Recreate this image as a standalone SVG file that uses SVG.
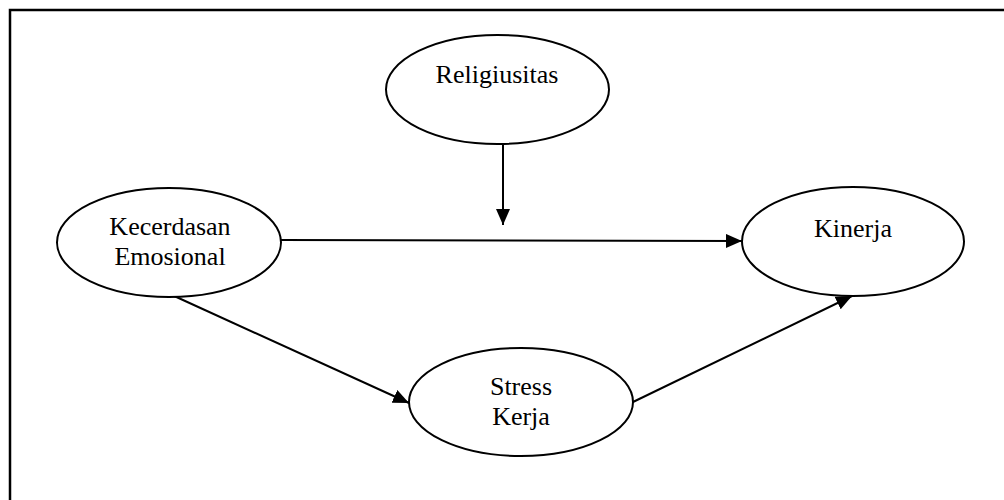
<svg xmlns="http://www.w3.org/2000/svg" width="1004" height="500" viewBox="0 0 1004 500">
<style>
.node ellipse{fill:#fff;stroke:#000;stroke-width:2}
.node text{font-family:"Liberation Serif","Times New Roman",serif;font-size:26px;fill:#000;text-anchor:middle}
.edge{stroke:#000;stroke-width:2;fill:none;marker-end:url(#arr)}
</style>
<defs>
<marker id="arr" viewBox="0 0 16 14" refX="16" refY="7" markerWidth="16" markerHeight="14" markerUnits="userSpaceOnUse" orient="auto">
<path d="M0,0 L16,7 L0,14 z" fill="#000"/>
</marker>
</defs>
<rect width="1004" height="500" fill="#fff"/>
<path d="M10,520 L10,10 L1010,10" fill="none" stroke="#000" stroke-width="2.5"/>
<g id="connectors">
<line class="edge" x1="503" y1="144" x2="503" y2="225"/>
<line class="edge" x1="281" y1="240" x2="742" y2="241"/>
<line class="edge" x1="172" y1="295" x2="409" y2="403"/>
<line class="edge" x1="633" y1="402" x2="852" y2="296"/>
</g>
<g id="religiusitas" class="node">
<ellipse cx="497.5" cy="89.5" rx="111.5" ry="54.5"/>
<text x="497" y="83">Religiusitas</text>
</g>
<g id="kecerdasan" class="node">
<ellipse cx="169" cy="242.5" rx="112" ry="54.5"/>
<text x="170" y="235">Kecerdasan</text>
<text x="170" y="265">Emosional</text>
</g>
<g id="kinerja" class="node">
<ellipse cx="853" cy="241.5" rx="111" ry="54.5"/>
<text x="853" y="237">Kinerja</text>
</g>
<g id="stress" class="node">
<ellipse cx="521" cy="402" rx="112" ry="54"/>
<text x="521" y="395">Stress</text>
<text x="521" y="425">Kerja</text>
</g>
</svg>
